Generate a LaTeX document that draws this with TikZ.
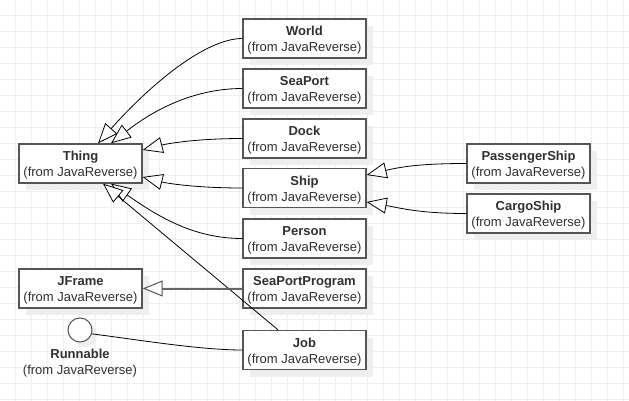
\documentclass[tikz,border=0pt]{standalone}
\usepackage{fontspec}
\setmainfont{Liberation Sans}
\usetikzlibrary{arrows.meta,shadows}
\definecolor{gridc}{HTML}{EFEFEF}
\definecolor{boxc}{HTML}{555555}
\definecolor{shadc}{HTML}{EEEEEE}
\definecolor{txtc}{HTML}{303030}
\newcommand{\clstxt}[1]{\rule{0pt}{13pt}\textbf{#1}\\(from JavaReverse)}
\tikzset{
  cls/.style={draw=boxc, line width=1.3pt, fill=white, minimum width=123pt,
    minimum height=39pt, inner sep=0pt, align=center,
    font=\fontsize{13}{16.3}\selectfont, text=txtc,
    drop shadow={shadow xshift=7pt, shadow yshift=-7pt, fill=shadc, opacity=1, draw=none}},
  inh/.style={draw=black, line width=0.8pt,
    -{Triangle[length=20pt, width=16pt, fill=white]}},
  plainline/.style={draw=black, line width=0.8pt},
  lbl/.style={align=center, font=\fontsize{13}{16}\selectfont, text=txtc, inner sep=0pt}
}
\begin{document}
\begin{tikzpicture}[x=1pt, y=-1pt]
\useasboundingbox (0,0) rectangle (629,401);
\fill[white] (0,0) rectangle (629,401);
\foreach \k in {0,...,38} {
  \draw[gridc, line width=1pt] (15.5+16*\k,0) -- (15.5+16*\k,401);
}
\foreach \k in {0,...,24} {
  \draw[gridc, line width=1pt] (0,15.5+16*\k) -- (629,15.5+16*\k);
}
% nodes
\node[cls] (World) at (304.5,38.5) {\clstxt{World}};
\node[cls] (SeaPort) at (304.5,88.5) {\clstxt{SeaPort}};
\node[cls] (Dock) at (304.5,138.5) {\clstxt{Dock}};
\node[cls] (Ship) at (304.5,188) {\clstxt{Ship}};
\node[cls] (Person) at (304.5,238.5) {\clstxt{Person}};
\node[cls] (SPP) at (304.5,288.5) {\clstxt{SeaPortProgram}};
\node[cls] (Job) at (304.5,350) {\clstxt{Job}};
\node[cls] (Thing) at (80.5,163.5) {\clstxt{Thing}};
\node[cls] (JFrame) at (80.5,288.5) {\clstxt{JFrame}};
\node[cls] (PShip) at (528.5,163.5) {\clstxt{PassengerShip}};
\node[cls] (CShip) at (528.5,213.5) {\clstxt{CargoShip}};
\node[circle, draw=boxc, line width=1pt, fill=white, minimum size=24pt, inner sep=0pt,
  drop shadow={shadow xshift=5pt, shadow yshift=-5pt, fill=shadc, opacity=1, draw=none}] (Run) at (80,330) {};
\node[lbl] (RunL) at (80,363) {\textbf{Runnable}\\(from JavaReverse)};
% connectors
\draw[inh] (World.west) .. controls (205,38.5) and (150,85) .. ([xshift=17.5pt]Thing.north);
\draw[inh] (SeaPort.west) .. controls (200,88.5) and (160,105) .. ([xshift=30.5pt]Thing.north);
\draw[inh] (Dock.west) .. controls (200,138.5) and (170,143) .. ([yshift=13.5pt]Thing.east);
\draw[inh] (Ship.west) .. controls (200,188) and (170,184) .. ([yshift=-13.5pt]Thing.east);
\draw[inh] (Person.west) .. controls (195,238.5) and (160,218) .. ([xshift=30.5pt]Thing.south);
\draw[inh] ([xshift=-26.5pt]Job.north) -- ([xshift=22.5pt]Thing.south);
\draw[draw=black!60, line width=2pt,
  -{Triangle[length=20pt, width=16pt, fill=white, line width=1pt, color=boxc]}] (SPP.west) -- (JFrame.east);
\draw[inh] (PShip.west) .. controls (420,163.5) and (400,167) .. ([yshift=13pt]Ship.east);
\draw[inh] (CShip.west) .. controls (420,213.5) and (400,208) .. ([yshift=-14pt]Ship.east);
\draw[plainline] (Job.west) .. controls (200,350) and (140,340) .. (Run.-18);
\end{tikzpicture}
\end{document}
